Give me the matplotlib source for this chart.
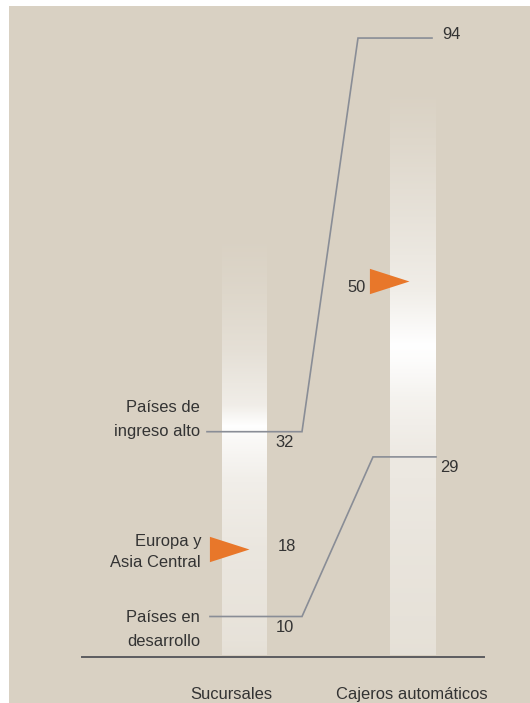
import numpy as np
import matplotlib
matplotlib.use("Agg")
import matplotlib.pyplot as plt
from matplotlib.patches import Rectangle
import matplotlib.transforms as mtransforms

plt.rcParams['font.family'] = ['Liberation Sans', 'DejaVu Sans']

# ---------------- data ----------------
columns = ['Sucursales', 'Cajeros automáticos']
groups = ['Países de\ningreso alto', 'Países en\ndesarrollo']
sucursales = [32, 10]          # per group
cajeros = [94, 29]             # per group
region_label = 'Europa y\nAsia Central'
region_values = [18, 50]       # Sucursales, Cajeros

# ---------------- style ----------------
BG = '#d9d1c3'
LINE = '#898d96'
ORANGE = '#e8772a'
TEXT = '#333333'
FS = 11.9
W, H = 530, 703
PX = 0.72  # points per pixel at dpi 100

fig = plt.figure(figsize=(W / 100, H / 100), dpi=100)
fig.patch.set_facecolor('white')

# background (pixel coordinates, decoration only)
bg = fig.add_axes([0, 0, 1, 1])
bg.add_patch(Rectangle((9, 6), W - 9, H - 6, color=BG, lw=0, zorder=0))


def glow(x0, x1, ys, alphas):
    yy = np.arange(ys[0], ys[-1] + 1)
    a = np.interp(yy, ys, alphas)
    img = np.ones((len(yy), 1, 4))
    img[:, 0, 3] = a
    bg.imshow(img, extent=(x0, x1, ys[-1], ys[0]), aspect='auto',
              interpolation='bilinear', origin='upper', zorder=1)


glow(222, 267, [235, 290, 350, 405, 426, 438, 480, 550, 640, 655],
     [0.0, 0.12, 0.32, 0.62, 1.0, 0.88, 0.64, 0.47, 0.38, 0.32])
glow(390, 436, [90, 140, 210, 290, 345, 360, 400, 460, 560, 655],
     [0.0, 0.14, 0.35, 0.62, 1.0, 0.95, 0.72, 0.52, 0.42, 0.34])
bg.plot([82, 484], [657, 657], color='#5c5c60', lw=1.4, zorder=2)
bg.set_xlim(0, W)
bg.set_ylim(H, 0)
bg.axis('off')

# main axes with value scale (compressed above 50)
ax = fig.add_axes([0, 0, 1, 1])
ax.patch.set_alpha(0)
K = 0.656


def fwd(v):
    v = np.asarray(v, float)
    return np.where(v <= 50, v, 50 + (v - 50) * K)


def inv(f):
    f = np.asarray(f, float)
    return np.where(f <= 50, f, 50 + (f - 50) / K)


ax.set_yscale('function', functions=(fwd, inv))
SLOPE, Y0 = 8.4, 700.5            # px per unit and pixel of value 0
ax.set_ylim(float(inv((Y0 - H) / SLOPE)), float(inv(Y0 / SLOPE)))
CX0, PXU = 244.5, 168.5           # column 0 pixel centre, px per column
ax.set_xlim(-CX0 / PXU, (W - CX0) / PXU)
ax.axis('off')


def px2x(p):
    return (p - CX0) / PXU


# connecting lines
bends = [[207, 302, 358, 432], [210, 302, 373, 436]]
for g, (s, c) in enumerate(zip(sucursales, cajeros)):
    xs = [px2x(p) for p in bends[g]]
    ax.plot(xs, [s, s, c, c], color=LINE, lw=1.2, solid_joinstyle='miter', zorder=3)

# triangles for region
tri = [(0, 0), (-39, 12.5), (-39, -12.5), (0, 0)]
tri_x = [px2x(249), px2x(409)]
for x, v in zip(tri_x, region_values):
    ax.plot(x, v, marker=tri, ms=57, color=ORANGE, mew=0, ls='none', zorder=4)


def label(x, v, txt, dy_px, ha='center'):
    ax.annotate(txt, xy=(x, v), xytext=(0, dy_px * PX), textcoords='offset points',
                ha=ha, va='baseline', fontsize=FS, color=TEXT, zorder=5)


# value labels
label(px2x(285), sucursales[0], str(sucursales[0]), -15.3)
label(px2x(285), sucursales[1], str(sucursales[1]), -15.5)
label(px2x(451), cajeros[0], str(cajeros[0]), -1)
label(px2x(449), cajeros[1], str(cajeros[1]), -15)
label(px2x(287), region_values[0], str(region_values[0]), -1.7)
label(px2x(357), region_values[1], str(region_values[1]), -11.5)

# group labels (left)
group_offsets = [[19.7, -4.3], [-5.5, -29.5]]
for g, name in enumerate(groups):
    for line, dy in zip(name.split('\n'), group_offsets[g]):
        label(px2x(200), sucursales[g], line, dy, ha='right')
for line, dy in zip(region_label.split('\n'), [3.3, -17.7]):
    label(px2x(201), region_values[0], line, dy, ha='right')

# column labels
tb = mtransforms.blended_transform_factory(ax.transData, bg.transData)
for x, name in zip([px2x(231), px2x(411.5)], columns):
    ax.text(x, 699, name, transform=tb, ha='center', va='baseline',
            fontsize=FS, color=TEXT)

fig.savefig('out.png', dpi=100, facecolor=fig.get_facecolor())
